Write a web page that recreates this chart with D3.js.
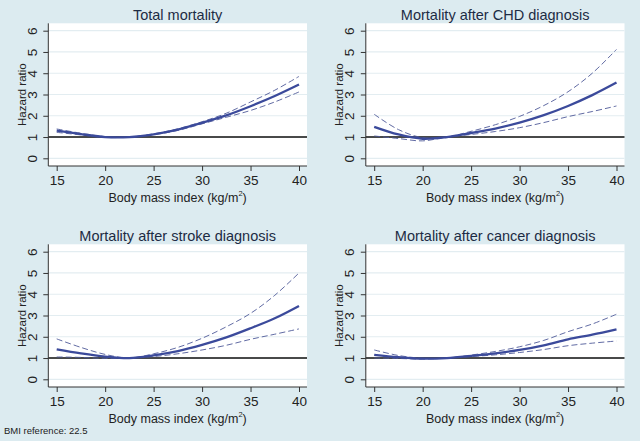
<!DOCTYPE html>
<html>
<head>
<meta charset="utf-8">
<script src="https://cdn.jsdelivr.net/npm/d3@7"></script>
<style>
  body { margin: 0; background: #dcebf0; }
  svg { display: block; font-family: "Liberation Sans", Arial, sans-serif; }
</style>
</head>
<body>
<script>
// BMI grid the curves are read at
var bmi = [15, 17.5, 20, 22.5, 25, 27.5, 30, 32.5, 35, 37.5, 40];

// Panel titles
var titles = ["Total mortality", "Mortality after CHD diagnosis",
  "Mortality after stroke diagnosis", "Mortality after cancer diagnosis"];

// Hazard ratios (estimate, lower CI, upper CI) per panel
var totalHR    = [1.30, 1.14, 1.00, 1.00, 1.13, 1.35, 1.67, 2.02, 2.45, 2.93, 3.47];
var totalLow   = [1.22, 1.10, 0.98, 1.00, 1.11, 1.31, 1.62, 1.93, 2.25, 2.65, 3.12];
var totalHigh  = [1.38, 1.18, 1.02, 1.00, 1.15, 1.39, 1.72, 2.12, 2.65, 3.20, 3.85];

var chdHR      = [1.48, 1.12, 0.92, 1.00, 1.19, 1.40, 1.68, 2.03, 2.46, 2.97, 3.56];
var chdLow     = [1.05, 0.93, 0.82, 1.00, 1.12, 1.26, 1.44, 1.68, 1.96, 2.20, 2.46];
var chdHigh    = [2.07, 1.35, 0.97, 1.00, 1.27, 1.58, 1.97, 2.48, 3.13, 4.00, 5.12];

var strokeHR   = [1.41, 1.22, 1.07, 1.00, 1.13, 1.33, 1.62, 1.97, 2.40, 2.87, 3.45];
var strokeLow  = [1.05, 1.03, 0.98, 1.00, 1.07, 1.20, 1.38, 1.60, 1.88, 2.12, 2.37];
var strokeHigh = [1.90, 1.50, 1.17, 1.00, 1.20, 1.50, 1.93, 2.47, 3.10, 3.95, 5.00];

var cancerHR   = [1.15, 1.04, 0.97, 1.00, 1.10, 1.22, 1.38, 1.60, 1.88, 2.10, 2.35];
var cancerLow  = [1.00, 0.98, 0.95, 1.00, 1.07, 1.15, 1.26, 1.40, 1.58, 1.70, 1.80];
var cancerHigh = [1.38, 1.12, 0.99, 1.00, 1.14, 1.31, 1.53, 1.83, 2.24, 2.60, 3.06];

// Axis ticks
var xTicks = [15, 20, 25, 30, 35, 40];
var yTicks = [0, 1, 2, 3, 4, 5, 6];

var panels = [
  { title: titles[0], hr: totalHR,  low: totalLow,  high: totalHigh },
  { title: titles[1], hr: chdHR,    low: chdLow,    high: chdHigh },
  { title: titles[2], hr: strokeHR, low: strokeLow, high: strokeHigh },
  { title: titles[3], hr: cancerHR, low: cancerLow, high: cancerHigh }
];

var svgWidth = 640;
var svgHeight = 441;
var font = "Liberation Sans, Arial, sans-serif";

var svg = d3.select("body")
  .append("svg")
  .attr("width", svgWidth)
  .attr("height", svgHeight);

svg.append("rect")
  .attr("width", svgWidth)
  .attr("height", svgHeight)
  .attr("fill", "#dcebf0");

// plot region inside each panel
var plotLeft = 48.3, plotRight = 307, plotTop = 23.3, plotBottom = 166;

var x = d3.scaleLinear().domain([15, 40]).range([56.7, 299]);
var y = d3.scaleLinear().domain([0, 6]).range([158.3, 30.7]);

var lineColor = "#3b4a9b";

panels.forEach(function(p, i) {
  var ox = (i % 2) * 317.5;
  var oy = Math.floor(i / 2) * 221;
  var g = svg.append("g").attr("transform", `translate(${ox}, ${oy})`);

  // white plot region
  g.append("rect")
    .attr("x", plotLeft)
    .attr("y", plotTop)
    .attr("width", plotRight - plotLeft)
    .attr("height", plotBottom - plotTop)
    .attr("fill", "#ffffff");

  // gridlines
  g.selectAll(".grid")
    .data(yTicks)
    .enter()
    .append("line")
    .attr("x1", plotLeft)
    .attr("x2", plotRight)
    .attr("y1", d => y(d))
    .attr("y2", d => y(d))
    .attr("stroke", "#e3edf1")
    .attr("stroke-width", 1.2);

  // reference line at HR = 1
  g.append("line")
    .attr("x1", plotLeft)
    .attr("x2", plotRight)
    .attr("y1", y(1))
    .attr("y2", y(1))
    .attr("stroke", "#111")
    .attr("stroke-width", 1.4);

  var rows = bmi.map((b, j) => ({ bmi: b, hr: p.hr[j], low: p.low[j], high: p.high[j] }));

  function curve(key) {
    return d3.line()
      .x(d => x(d.bmi))
      .y(d => y(d[key]))
      .curve(d3.curveCatmullRom.alpha(0.5));
  }

  ["low", "high"].forEach(function(key) {
    g.append("path")
      .attr("d", curve(key)(rows))
      .attr("fill", "none")
      .attr("stroke", "#4f5a98")
      .attr("stroke-width", 0.9)
      .attr("stroke-dasharray", "6,3");
  });

  g.append("path")
    .attr("d", curve("hr")(rows))
    .attr("fill", "none")
    .attr("stroke", lineColor)
    .attr("stroke-width", 2.3);

  // bottom axis
  var bottomAxis = d3.axisBottom(x).tickValues(xTicks).tickSize(5).tickPadding(4);
  var bx = g.append("g")
    .attr("transform", `translate(0, ${plotBottom})`)
    .call(bottomAxis);
  bx.select(".domain").remove();
  bx.selectAll("line").attr("stroke", "#333");
  bx.selectAll("text").attr("font-size", 13.5).attr("fill", "#222")
    .attr("font-family", font);
  g.append("line")
    .attr("x1", plotLeft).attr("x2", plotRight)
    .attr("y1", plotBottom).attr("y2", plotBottom)
    .attr("stroke", "#333").attr("stroke-width", 1);

  // left axis with rotated labels
  var leftAxis = d3.axisLeft(y).tickValues(yTicks).tickFormat(d3.format("d"))
    .tickSize(5).tickPadding(0);
  var ly = g.append("g")
    .attr("transform", `translate(${plotLeft}, 0)`)
    .call(leftAxis);
  ly.select(".domain").remove();
  ly.selectAll("line").attr("stroke", "#333");
  ly.selectAll("text")
    .attr("x", 0).attr("dy", null)
    .attr("transform", "translate(-16, 0) rotate(-90)")
    .attr("text-anchor", "middle")
    .attr("dominant-baseline", "central")
    .attr("font-size", 13.5).attr("fill", "#222")
    .attr("font-family", font);
  g.append("line")
    .attr("x1", plotLeft).attr("x2", plotLeft)
    .attr("y1", plotTop).attr("y2", plotBottom)
    .attr("stroke", "#333").attr("stroke-width", 1);

  // titles
  g.append("text")
    .attr("x", (plotLeft + plotRight) / 2)
    .attr("y", 20)
    .attr("text-anchor", "middle")
    .attr("font-size", 14.5)
    .attr("fill", "#1c2b44")
    .text(p.title);

  g.append("text")
    .attr("transform", `translate(25.5, ${(plotTop + plotBottom) / 2}) rotate(-90)`)
    .attr("text-anchor", "middle")
    .attr("font-size", 11.5)
    .attr("fill", "#222")
    .text("Hazard ratio");

  var xt = g.append("text")
    .attr("x", (plotLeft + plotRight) / 2)
    .attr("y", 201.5)
    .attr("text-anchor", "middle")
    .attr("font-size", 12.5)
    .attr("fill", "#222");
  xt.append("tspan").text("Body mass index (kg/m");
  xt.append("tspan").attr("font-size", 7.5).attr("dy", -6).text("2");
  xt.append("tspan").attr("dy", 6).text(")");
});

svg.append("text")
  .attr("x", 4)
  .attr("y", 434)
  .attr("font-size", 9.5)
  .attr("fill", "#222")
  .text("BMI reference: 22.5");
</script>
</body>
</html>
